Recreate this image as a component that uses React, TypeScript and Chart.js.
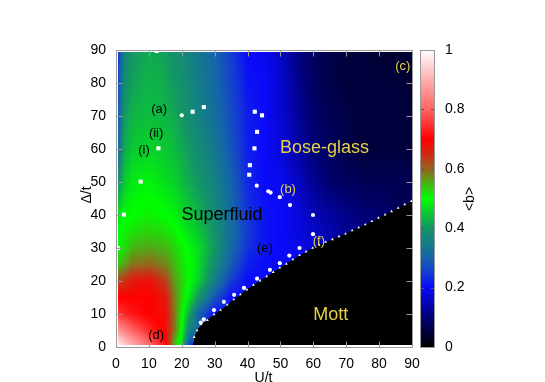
import React, { useEffect, useRef } from 'react';
import { Chart, registerables } from 'chart.js';

Chart.register(...registerables);

const FONT = "'Liberation Sans', Arial, Helvetica, sans-serif";

// ---- heat-map field <b>(U/t, Δ/t) on a (non-uniform) grid; 0 = Mott region ----
const U_GRID = [0, 2.5, 5, 10, 15, 17.5, 20, 22.5, 25, 30, 35, 40, 45, 50, 55, 60, 65, 70, 75, 80, 85, 90];
const D_GRID = [0, 2.5, 5, 10, 15, 20, 25, 30, 35, 40, 50, 60, 70, 80, 90];

const ROW_D00 = [1.0, 0.95, 0.9, 0.82, 0.72, 0.56, 0.46, 0.22, 0, 0, 0, 0, 0, 0, 0, 0, 0, 0, 0, 0, 0, 0];
const ROW_D02 = [0.95, 0.9, 0.86, 0.78, 0.7, 0.57, 0.48, 0.3, 0, 0, 0, 0, 0, 0, 0, 0, 0, 0, 0, 0, 0, 0];
const ROW_D05 = [0.88, 0.84, 0.8, 0.74, 0.69, 0.6, 0.5, 0.34, 0, 0, 0, 0, 0, 0, 0, 0, 0, 0, 0, 0, 0, 0];
const ROW_D10 = [0.76, 0.74, 0.72, 0.7, 0.68, 0.6, 0.51, 0.41, 0.3, 0.2, 0, 0, 0, 0, 0, 0, 0, 0, 0, 0, 0, 0];
const ROW_D15 = [0.7, 0.7, 0.7, 0.7, 0.67, 0.59, 0.53, 0.47, 0.4, 0.28, 0.2, 0, 0, 0, 0, 0, 0, 0, 0, 0, 0, 0];
const ROW_D20 = [0.62, 0.64, 0.67, 0.68, 0.63, 0.57, 0.53, 0.5, 0.46, 0.35, 0.25, 0.2, 0, 0, 0, 0, 0, 0, 0, 0, 0, 0];
const ROW_D25 = [0.53, 0.56, 0.59, 0.6, 0.58, 0.55, 0.52, 0.5, 0.47, 0.38, 0.29, 0.22, 0.2, 0.19, 0, 0, 0, 0, 0, 0, 0, 0];
const ROW_D30 = [0.5, 0.52, 0.55, 0.56, 0.55, 0.53, 0.51, 0.49, 0.47, 0.4, 0.31, 0.24, 0.21, 0.2, 0.19, 0.17, 0, 0, 0, 0, 0, 0];
const ROW_D35 = [0.49, 0.51, 0.52, 0.53, 0.52, 0.51, 0.49, 0.47, 0.45, 0.39, 0.32, 0.25, 0.21, 0.2, 0.18, 0.16, 0.14, 0.12, 0, 0, 0, 0];
const ROW_D40 = [0.47, 0.49, 0.5, 0.51, 0.5, 0.49, 0.47, 0.45, 0.43, 0.38, 0.31, 0.24, 0.21, 0.2, 0.18, 0.15, 0.13, 0.11, 0.1, 0.09, 0, 0];
const ROW_D50 = [0.36, 0.45, 0.48, 0.49, 0.47, 0.46, 0.44, 0.42, 0.4, 0.36, 0.3, 0.23, 0.2, 0.19, 0.16, 0.12, 0.09, 0.08, 0.07, 0.07, 0.07, 0.07];
const ROW_D60 = [0.27, 0.42, 0.45, 0.46, 0.45, 0.44, 0.42, 0.4, 0.38, 0.34, 0.28, 0.22, 0.2, 0.18, 0.14, 0.1, 0.08, 0.06, 0.05, 0.05, 0.05, 0.05];
const ROW_D70 = [0.24, 0.4, 0.43, 0.44, 0.43, 0.42, 0.4, 0.38, 0.36, 0.32, 0.27, 0.22, 0.2, 0.17, 0.13, 0.09, 0.07, 0.06, 0.05, 0.05, 0.05, 0.05];
const ROW_D80 = [0.22, 0.38, 0.41, 0.43, 0.42, 0.4, 0.39, 0.37, 0.35, 0.31, 0.26, 0.21, 0.2, 0.17, 0.12, 0.08, 0.06, 0.05, 0.05, 0.05, 0.05, 0.04];
const ROW_D90 = [0.2, 0.36, 0.4, 0.42, 0.41, 0.39, 0.38, 0.36, 0.34, 0.3, 0.25, 0.2, 0.19, 0.16, 0.11, 0.08, 0.06, 0.05, 0.05, 0.04, 0.04, 0.04];
const FIELD = [ROW_D00, ROW_D02, ROW_D05, ROW_D10, ROW_D15, ROW_D20, ROW_D25, ROW_D30, ROW_D35, ROW_D40, ROW_D50, ROW_D60, ROW_D70, ROW_D80, ROW_D90];

// extent of the drawn map (U range, Δ range)
const HEAT_U = [0.6, 90];
const HEAT_D = [0.5, 89.3];

// where the Mott boundary meets Δ = 0
const MOTT_U0 = 23.3;

// Mott boundary marks (small triangles)
const TRI_U = [23.8, 24.7, 25.8, 27.8, 29.8, 31.8, 33.8, 35.8, 37.8, 39.8, 41.8, 43.8, 45.8, 47.8, 49.8, 51.8, 53.8, 55.8, 57.8, 59.8, 61.8, 63.8, 65.8, 67.8, 69.8, 71.8, 73.8, 75.8, 77.8, 79.8, 81.8, 83.8, 85.8, 87.8, 89.8];
const TRI_D = [3.0, 5.0, 6.8, 8.1, 9.9, 11.2, 12.8, 14.4, 15.9, 17.4, 18.8, 20.1, 21.4, 22.7, 24.0, 25.2, 26.5, 27.8, 28.9, 30.0, 30.9, 31.8, 32.6, 33.5, 34.3, 35.3, 36.2, 37.1, 38.1, 39.1, 40.1, 41.1, 42.1, 43.2, 44.2];

// white circles
const CIRC_U = [20, 42.8, 46.3, 47.0, 49.8, 52.9, 59.9, 59.9, 55.8, 52.7, 49.8, 46.8, 42.9, 38.9, 35.9, 32.8, 29.8, 26.7, 25.8];
const CIRC_D = [70.2, 48.9, 47.2, 46.8, 45.4, 43.0, 40.0, 34.2, 30.0, 27.7, 25.4, 23.4, 20.7, 17.9, 15.8, 13.7, 11.2, 8.4, 7.4];

// white squares
const SQ_U = [23.3, 26.7, 42.2, 44.4, 42.9, 42.1, 40.7, 40.5, 12.9, 7.5, 2.4, 0.6, 12.4];
const SQ_D = [71.3, 72.7, 71.3, 70.2, 65.2, 60.2, 55.1, 52.2, 60.2, 50.1, 40.1, 30.0, 89.7];

const X_TICKS = [0, 10, 20, 30, 40, 50, 60, 70, 80, 90];
const Y_TICKS = [0, 10, 20, 30, 40, 50, 60, 70, 80, 90];
const CB_TICKS = [0, 0.2, 0.4, 0.6, 0.8, 1];

// colour map stops [value, r, g, b]
const CMAP = [
  [0, 0, 0, 0],
  [0.05, 0, 0, 60],
  [0.1, 0, 0, 120],
  [0.2, 10, 10, 250],
  [0.25, 20, 60, 210],
  [0.3, 20, 100, 170],
  [0.35, 20, 125, 135],
  [0.4, 20, 150, 100],
  [0.45, 10, 200, 50],
  [0.5, 0, 255, 0],
  [0.55, 70, 180, 20],
  [0.6, 150, 100, 30],
  [0.65, 210, 40, 20],
  [0.7, 255, 0, 0],
  [0.8, 255, 100, 100],
  [0.9, 255, 175, 175],
  [1, 255, 255, 255],
];

const ANNOTATIONS = [
  { text: 'Superfluid', u: 32.2, d: 40.1, color: '#000', size: 18 },
  { text: 'Bose-glass', u: 63.4, d: 60.2, color: '#e6d244', size: 18 },
  { text: 'Mott', u: 65.3, d: 9.7, color: '#e6d244', size: 18 },
  { text: '(a)', u: 13.1, d: 72.0, color: '#000', size: 13 },
  { text: '(ii)', u: 12.2, d: 64.7, color: '#000', size: 13 },
  { text: '(i)', u: 8.5, d: 59.6, color: '#000', size: 13 },
  { text: '(b)', u: 52.3, d: 47.7, color: '#e6d244', size: 13 },
  { text: '(c)', u: 87.2, d: 85.1, color: '#e6d244', size: 13 },
  { text: '(d)', u: 12.2, d: 3.6, color: '#000', size: 13 },
  { text: '(e)', u: 45.3, d: 29.8, color: '#000', size: 13 },
  { text: '(f)', u: 61.7, d: 31.9, color: '#e6d244', size: 13 },
];

function colorAt(v: number): [number, number, number] {
  if (v <= 0) return [0, 0, 0];
  if (v >= 1) return [255, 255, 255];
  for (let i = 0; i < CMAP.length - 1; i++) {
    const a = CMAP[i], b = CMAP[i + 1];
    if (v >= a[0] && v <= b[0]) {
      const t = (v - a[0]) / (b[0] - a[0]);
      return [a[1] + t * (b[1] - a[1]), a[2] + t * (b[2] - a[2]), a[3] + t * (b[3] - a[3])];
    }
  }
  return [0, 0, 0];
}

function mottEdge(u: number): number {
  const n = TRI_U.length;
  if (u <= MOTT_U0) return -1;
  if (u <= TRI_U[0]) return (TRI_D[0] * (u - MOTT_U0)) / (TRI_U[0] - MOTT_U0);
  for (let i = 0; i < n - 1; i++) {
    if (u <= TRI_U[i + 1]) {
      const t = (u - TRI_U[i]) / (TRI_U[i + 1] - TRI_U[i]);
      return TRI_D[i] + t * (TRI_D[i + 1] - TRI_D[i]);
    }
  }
  const s = (TRI_D[n - 1] - TRI_D[n - 2]) / (TRI_U[n - 1] - TRI_U[n - 2]);
  return TRI_D[n - 1] + (u - TRI_U[n - 1]) * s;
}

function findCell(g: number[], v: number): [number, number] {
  let i = 0;
  while (i < g.length - 2 && v > g[i + 1]) i++;
  let t = (v - g[i]) / (g[i + 1] - g[i]);
  t = Math.max(0, Math.min(1, t));
  return [i, t];
}

function fieldAt(u: number, d: number): number {
  if (d < mottEdge(u)) return 0;
  const [i, tx] = findCell(U_GRID, u);
  const [j, ty] = findCell(D_GRID, d);
  const c = [
    [FIELD[j][i], (1 - tx) * (1 - ty)],
    [FIELD[j][i + 1], tx * (1 - ty)],
    [FIELD[j + 1][i], (1 - tx) * ty],
    [FIELD[j + 1][i + 1], tx * ty],
  ];
  let s = 0, w = 0;
  for (const [v, wt] of c) {
    if (v > 0) { s += v * wt; w += wt; }
  }
  if (w <= 1e-9) return 0.15;
  return s / w;
}

const phasePlugin = {
  id: 'phase',
  beforeDatasetsDraw(chart: any) {
    const { ctx, scales } = chart;
    const xs = scales.x, ys = scales.y;
    const x0 = Math.round(xs.getPixelForValue(HEAT_U[0]));
    const x1 = Math.round(xs.getPixelForValue(HEAT_U[1]));
    const y0 = Math.round(ys.getPixelForValue(HEAT_D[1]));
    const y1 = Math.round(ys.getPixelForValue(HEAT_D[0]));
    const w = x1 - x0, h = y1 - y0;
    const off = document.createElement('canvas');
    off.width = w; off.height = h;
    const octx = off.getContext('2d')!;
    const img = octx.createImageData(w, h);
    for (let py = 0; py < h; py++) {
      const d = ys.getValueForPixel(y0 + py + 0.5);
      for (let px = 0; px < w; px++) {
        const u = xs.getValueForPixel(x0 + px + 0.5);
        const [r, g, b] = colorAt(fieldAt(u, d));
        const k = (py * w + px) * 4;
        img.data[k] = r; img.data[k + 1] = g; img.data[k + 2] = b; img.data[k + 3] = 255;
      }
    }
    octx.putImageData(img, 0, 0);
    ctx.save();
    ctx.drawImage(off, x0, y0);
    ctx.restore();
  },
  afterDatasetsDraw(chart: any) {
    const { ctx, scales } = chart;
    const xs = scales.x, ys = scales.y, cb = scales.cb;
    const L = Math.round(xs.getPixelForValue(0)) + 0.5, R = Math.round(xs.getPixelForValue(90)) + 0.5;
    const T = Math.round(ys.getPixelForValue(90)) + 0.5, B = Math.round(ys.getPixelForValue(0)) + 0.5;
    ctx.save();
    // ticks
    ctx.strokeStyle = '#9a9a9a';
    ctx.lineWidth = 1;
    ctx.beginPath();
    for (const v of X_TICKS) {
      const x = Math.round(xs.getPixelForValue(v)) + 0.5;
      ctx.moveTo(x, B); ctx.lineTo(x, B - 6);
      ctx.moveTo(x, T); ctx.lineTo(x, T + 6);
    }
    for (const v of Y_TICKS) {
      const y = Math.round(ys.getPixelForValue(v)) + 0.5;
      ctx.moveTo(L, y); ctx.lineTo(L + 6, y);
      ctx.moveTo(R, y); ctx.lineTo(R - 6, y);
    }
    ctx.stroke();
    ctx.strokeRect(L, T, R - L, B - T);

    // annotations
    for (const a of ANNOTATIONS) {
      ctx.font = `${a.size}px ${FONT}`;
      ctx.fillStyle = a.color;
      ctx.textAlign = 'center';
      ctx.textBaseline = 'middle';
      ctx.fillText(a.text, xs.getPixelForValue(a.u), ys.getPixelForValue(a.d));
    }

    // colour bar
    const cbL = Math.round(R) + 7;
    const cbR = cbL + 15;
    const cTop = Math.round(cb.getPixelForValue(1));
    const cBot = Math.round(cb.getPixelForValue(0));
    for (let py = cTop; py < cBot; py++) {
      const v = cb.getValueForPixel(py + 0.5);
      const [r, g, b] = colorAt(v);
      ctx.fillStyle = `rgb(${r | 0},${g | 0},${b | 0})`;
      ctx.fillRect(cbL, py, cbR - cbL, 1);
    }
    ctx.strokeStyle = '#555';
    ctx.beginPath();
    for (const v of CB_TICKS) {
      if (v === 0 || v === 1) continue;
      const y = Math.round(cb.getPixelForValue(v)) + 0.5;
      ctx.moveTo(cbL, y); ctx.lineTo(cbL + 4, y);
      ctx.moveTo(cbR, y); ctx.lineTo(cbR - 4, y);
    }
    ctx.stroke();
    ctx.strokeStyle = '#9a9a9a';
    ctx.strokeRect(cbL + 0.5, cTop + 0.5, cbR - cbL - 1, cBot - cTop);

    // axis titles
    const midY = (T + B) / 2;
    ctx.fillStyle = '#000';
    ctx.font = `14px ${FONT}`;
    ctx.textAlign = 'center';
    ctx.textBaseline = 'top';
    ctx.fillText('U/t', (L + R) / 2 - 1, B + 24);
    ctx.textBaseline = 'middle';
    ctx.save();
    ctx.translate(L - 29, midY - 4);
    ctx.rotate(-Math.PI / 2);
    ctx.fillText('Δ/t', 0, 0);
    ctx.restore();
    ctx.save();
    ctx.translate(R + 58, midY);
    ctx.rotate(-Math.PI / 2);
    ctx.fillText('<b>', 0, 0);
    ctx.restore();
    ctx.restore();
  },
};

export default function App() {
  const ref = useRef<HTMLCanvasElement | null>(null);
  useEffect(() => {
    if (!ref.current) return;
    const tickFont = { family: FONT, size: 14 };
    const chart = new Chart(ref.current, {
      type: 'scatter',
      data: {
        datasets: [
          {
            data: TRI_U.map((u, i) => ({ x: u, y: TRI_D[i] })),
            pointStyle: 'triangle',
            pointRadius: 1.6,
            backgroundColor: '#ffffff',
            borderWidth: 0,
          },
          {
            data: CIRC_U.map((u, i) => ({ x: u, y: CIRC_D[i] })),
            pointStyle: 'circle',
            pointRadius: 2.1,
            backgroundColor: '#ffffff',
            borderWidth: 0,
          },
          {
            data: SQ_U.map((u, i) => ({ x: u, y: SQ_D[i] })),
            pointStyle: 'rect',
            pointRadius: 2.9,
            backgroundColor: '#ffffff',
            borderWidth: 0,
          },
        ],
      },
      options: {
        animation: false,
        responsive: false,
        maintainAspectRatio: false,
        events: [],
        layout: { padding: { top: 50, left: 0, right: 0, bottom: 0 } },
        plugins: { legend: { display: false }, tooltip: { enabled: false } },
        scales: {
          x: {
            type: 'linear', min: 0, max: 90,
            ticks: { stepSize: 10, font: tickFont, color: '#000', padding: 9, maxRotation: 0, autoSkip: false },
            grid: { display: false, drawTicks: false },
            border: { display: false },
            afterFit: (s: any) => { s.height = 35; },
          },
          y: {
            type: 'linear', position: 'left', min: 0, max: 90,
            ticks: { stepSize: 10, font: tickFont, color: '#000', padding: 10, autoSkip: false },
            grid: { display: false, drawTicks: false },
            border: { display: false },
            afterFit: (s: any) => { s.width = 116; },
          },
          cb: {
            type: 'linear', axis: 'y', position: 'right', min: 0, max: 1,
            ticks: {
              stepSize: 0.2, font: tickFont, color: '#000', padding: 2, autoSkip: false,
              callback: (v: any) => String(Math.round(Number(v) * 10) / 10),
            },
            grid: { display: true, drawOnChartArea: false, drawTicks: true, tickLength: 31, color: 'rgba(0,0,0,0)' },
            border: { display: false },
            afterFit: (s: any) => { s.width = 133; },
          },
        },
      } as any,
      plugins: [phasePlugin],
    });
    return () => chart.destroy();
  }, []);
  return (
    <div style={{ position: 'fixed', left: 0, top: 0, width: 545, height: 382, background: '#fff' }}>
      <canvas ref={ref} width={545} height={382} style={{ width: 545, height: 382, display: 'block' }} />
    </div>
  );
}
